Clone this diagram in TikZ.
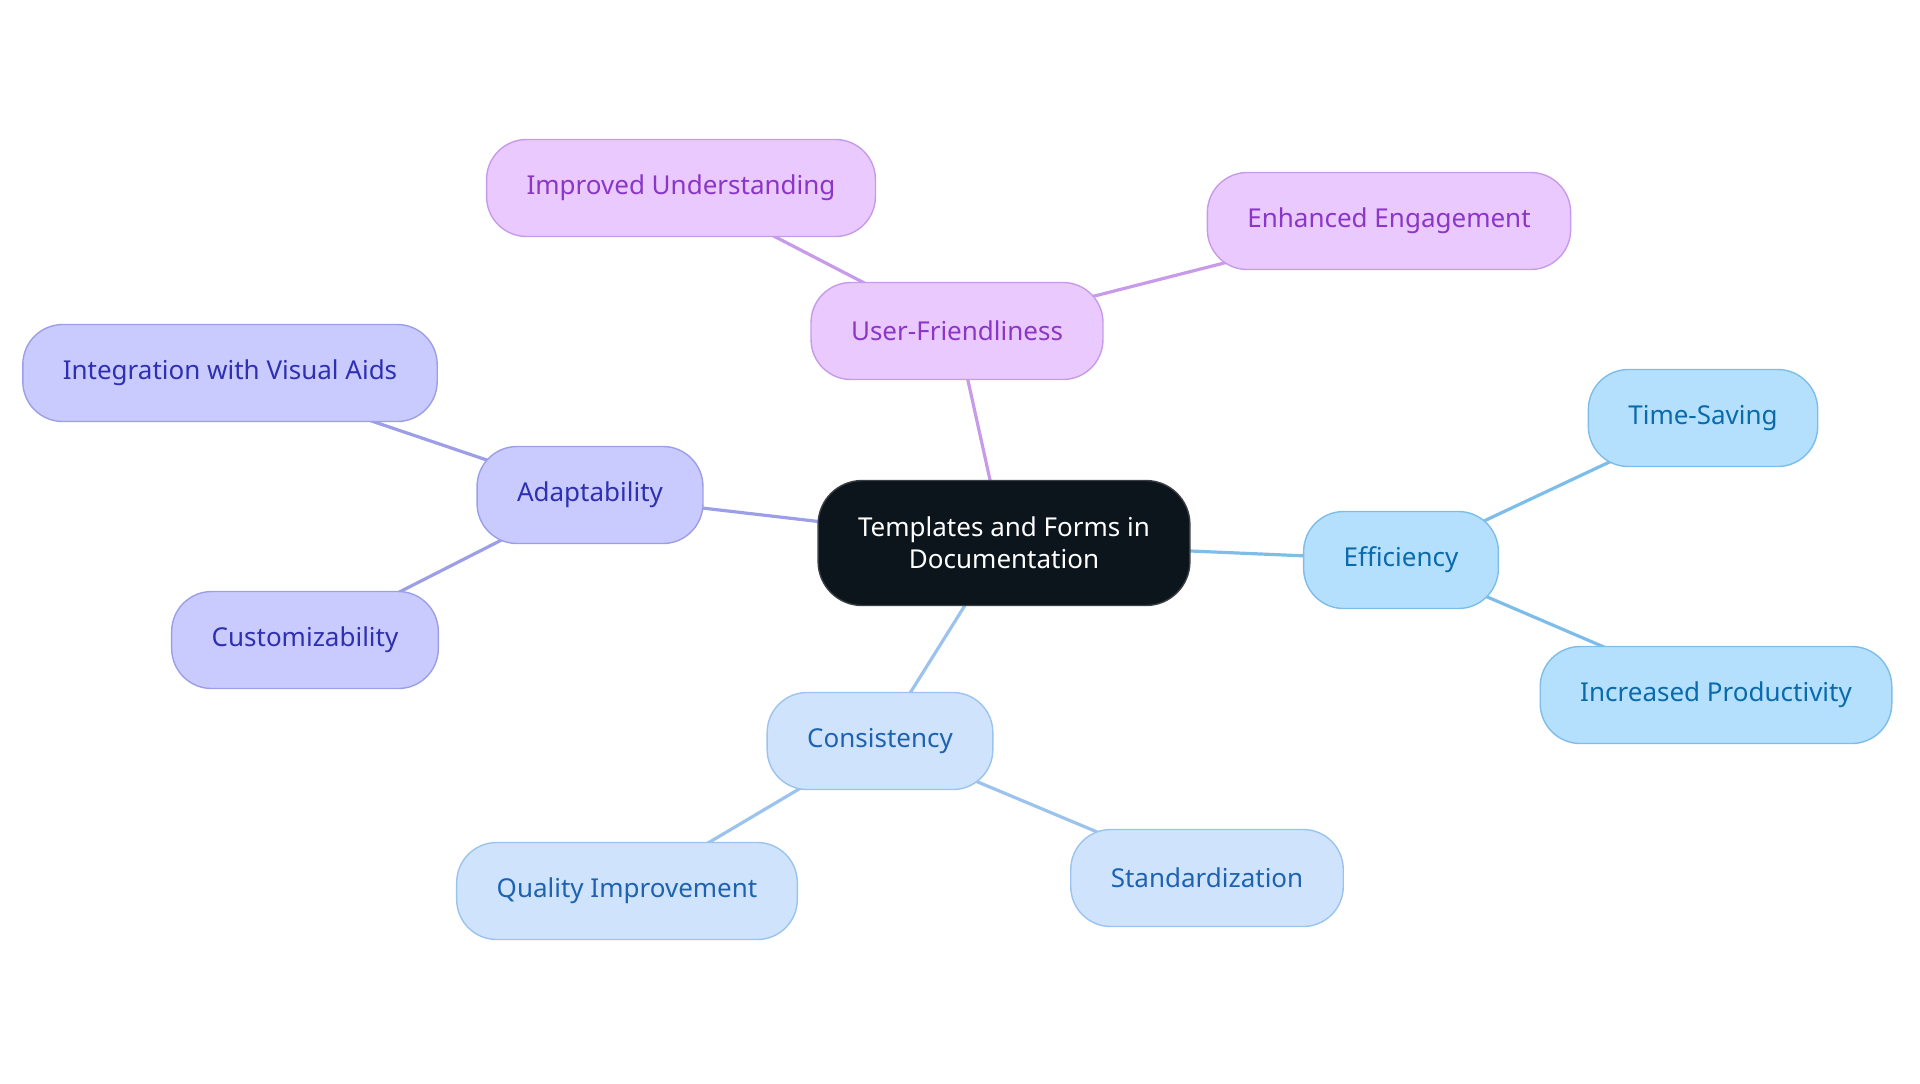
\documentclass[tikz,border=0pt]{standalone}
\usepackage{fontspec}
\setmainfont{Noto Sans}
\usetikzlibrary{backgrounds}
\definecolor{coreFill}{HTML}{0C141C}
\definecolor{coreLine}{HTML}{3A3F46}
\definecolor{userFill}{HTML}{E9C9FE}
\definecolor{userLine}{HTML}{C79BEA}
\definecolor{userText}{HTML}{8B36C6}
\definecolor{adaptFill}{HTML}{C9CBFF}
\definecolor{adaptLine}{HTML}{9C9EE8}
\definecolor{adaptText}{HTML}{2F30B0}
\definecolor{effFill}{HTML}{B4E0FE}
\definecolor{effLine}{HTML}{7DBDEA}
\definecolor{effText}{HTML}{0B6AAA}
\definecolor{consFill}{HTML}{CFE4FC}
\definecolor{consLine}{HTML}{9BC3EE}
\definecolor{consText}{HTML}{1E62B2}

\begin{document}
\begin{tikzpicture}[x=0.5pt,y=-0.5pt,
  box/.style={rounded corners=20pt, minimum height=48.5pt, inner xsep=20pt, line width=0.7pt, font=\fontsize{13}{16}\selectfont},
  userBox/.style={box, fill=userFill, draw=userLine, text=userText},
  adaptBox/.style={box, fill=adaptFill, draw=adaptLine, text=adaptText},
  effBox/.style={box, fill=effFill, draw=effLine, text=effText},
  consBox/.style={box, fill=consFill, draw=consLine, text=consText},
  link/.style={line width=1.6pt}]
\useasboundingbox (0,0) rectangle (1920,1083); % page

\node[box, fill=coreFill, draw=coreLine, text=white, align=center, minimum height=62.5pt, rounded corners=22pt, inner xsep=20pt] (core) at (1004,543) {Templates and Forms in\\Documentation}; % centre

\node[userBox] (user) at (957,331) {User-Friendliness};
\node[userBox] (understand) at (681,188) {Improved Understanding};
\node[userBox] (engage) at (1389,221) {Enhanced Engagement};

\node[adaptBox] (adapt) at (590,495) {Adaptability};
\node[adaptBox] (visual) at (230,373) {Integration with Visual Aids};
\node[adaptBox] (custom) at (305,640) {Customizability};

\node[effBox] (eff) at (1401,560) {Efficiency};
\node[effBox] (time) at (1703,418) {Time-Saving};
\node[effBox] (prod) at (1716,695) {Increased Productivity};

\node[consBox] (cons) at (880,741) {Consistency};
\node[consBox] (quality) at (627,891) {Quality Improvement};
\node[consBox] (standard) at (1207,878) {Standardization};

\begin{scope}[on background layer]
\draw[link, userLine] (core.center) -- (user.center); % user-friendliness
\draw[link, userLine] (user.center) -- (understand.center);
\draw[link, userLine] (user.center) -- (engage.center);
\draw[link, adaptLine] (core.center) -- (adapt.center); % adaptability
\draw[link, adaptLine] (adapt.center) -- (visual.center);
\draw[link, adaptLine] (adapt.center) -- (custom.center);
\draw[link, effLine] (core.center) -- (eff.center); % efficiency
\draw[link, effLine] (eff.center) -- (time.center);
\draw[link, effLine] (eff.center) -- (prod.center);
\draw[link, consLine] (core.center) -- (cons.center); % consistency
\draw[link, consLine] (cons.center) -- (quality.center);
\draw[link, consLine] (cons.center) -- (standard.center);
\end{scope}
\end{tikzpicture}
\end{document}
